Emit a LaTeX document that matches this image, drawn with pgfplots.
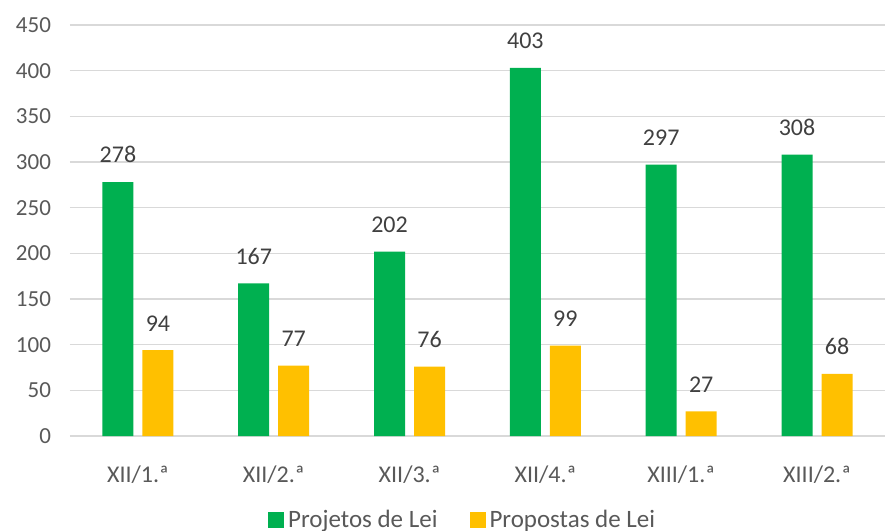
\documentclass[border=0pt]{standalone}
\usepackage{fontspec}
\setmainfont{Carlito}
\usepackage{pgfplots}
\pgfplotsset{compat=1.18}

\definecolor{pgreen}{HTML}{00B050}
\definecolor{pyellow}{HTML}{FFC000}
\definecolor{gridgray}{HTML}{D9D9D9}
\definecolor{ticktext}{HTML}{595959}

\begin{document}
\begin{tikzpicture}
\useasboundingbox (-35pt,-47.5pt) rectangle (407.5pt,218pt);
\begin{axis}[
at={(0,0)}, anchor=south west,
scale only axis,
width=407.5pt, height=205.5pt,
font=\fontsize{11.5}{13.5}\selectfont,
/pgf/number format/assume math mode=true,
ybar=4.5pt, bar width=15.5pt,
xmin=-0.5, xmax=5.5,
ymin=0, ymax=450,
ytick={0,50,...,450},
xtick={0,...,5},
xticklabels={XII/1.ª,XII/2.ª,XII/3.ª,XII/4.ª,XIII/1.ª,XIII/2.ª},
tick style={draw=none},
axis line style={draw=none},
ymajorgrids, grid style={gridgray, line width=0.8pt},
tick label style={text=ticktext},
yticklabel style={xshift=-6pt},
xticklabel style={yshift=-7pt, font=\fontsize{12}{14}\selectfont},
nodes near coords,
nodes near coords style={text=black!75, yshift=6pt, font=\fontsize{12}{14}\selectfont},
legend columns=2,
legend style={draw=none, at={(0.483,-0.205)}, anchor=center,
  font=\fontsize{12.5}{14.5}\selectfont,
  /tikz/every even column/.append style={column sep=14pt}, text=ticktext},
legend image code/.code={\fill[#1] (0pt,-4pt) rectangle (8pt,4pt);},
]
\addplot[fill=pgreen, draw=none] coordinates {(0,278) (1,167) (2,202) (3,403) (4,297) (5,308)};
\addplot[fill=pyellow, draw=none] coordinates {(0,94) (1,77) (2,76) (3,99) (4,27) (5,68)};
\legend{Projetos de Lei, Propostas de Lei}
\end{axis}
\end{tikzpicture}
\end{document}
